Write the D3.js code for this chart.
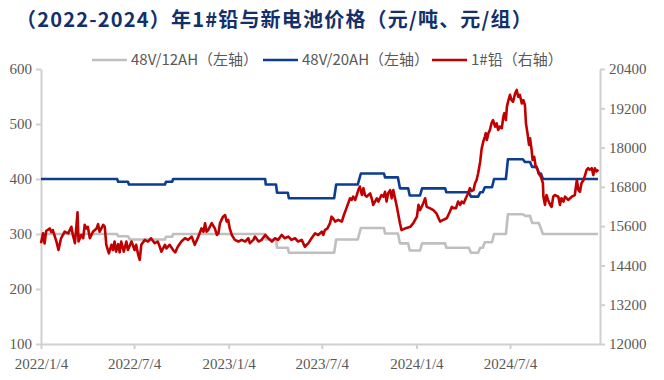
<!DOCTYPE html>
<html><head><meta charset="utf-8">
<script src="https://cdn.jsdelivr.net/npm/d3@7"></script>
<style>
html,body{margin:0;padding:0;background:#fff;}
svg{display:block;}
</style></head>
<body><svg id="c" width="664" height="380"></svg>
<script>
// ---------- data ----------
const titleText = "（2022-2024）年1#铅与新电池价格（元/吨、元/组）";
const seriesNames = ["48V/12AH（左轴）", "48V/20AH（左轴）", "1#铅（右轴）"];
const seriesColors = ["#bfbfbf", "#0b3d91", "#c00000"];
const xTickDates = ["2022-01-04","2022-07-04","2023-01-04","2023-07-04","2024-01-04","2024-07-04"];
const xTickLabels = ["2022/1/4","2022/7/4","2023/1/4","2023/7/4","2024/1/4","2024/7/4"];
const xDomain = ["2022-01-04","2024-12-26"];
const leftTicks = [100,200,300,400,500,600];
const rightTicks = [12000,13200,14400,15600,16800,18000,19200,20400];

const battery12Dates = ["2022-01-04","2022-06-01","2022-06-03","2022-06-22","2022-06-26","2022-09-02","2022-09-04","2022-09-16","2022-09-18","2023-03-16","2023-03-17","2023-04-06","2023-04-08","2023-04-29","2023-05-01","2023-07-28","2023-08-01","2023-09-12","2023-09-18","2023-11-02","2023-11-04","2023-11-29","2023-12-03","2023-12-19","2023-12-22","2024-01-11","2024-01-15","2024-02-29","2024-03-02","2024-04-15","2024-04-19","2024-05-03","2024-05-07","2024-05-12","2024-05-16","2024-05-30","2024-06-03","2024-06-26","2024-06-30","2024-07-29","2024-08-02","2024-08-12","2024-08-16","2024-08-29","2024-09-06","2024-12-22"];
const battery12Values = [300,300,296,296,290,290,295,295,300,300,290,290,275,275,266,266,290,290,311,311,301,301,283,283,270,270,283,283,275,275,266,266,275,275,285,285,300,300,336,336,333,333,320,320,300,300];

const battery20Dates = ["2022-01-04","2022-06-01","2022-06-03","2022-06-22","2022-06-24","2022-09-02","2022-09-04","2022-09-16","2022-09-18","2023-03-16","2023-03-17","2023-04-06","2023-04-08","2023-04-29","2023-05-01","2023-07-28","2023-08-01","2023-09-12","2023-09-18","2023-11-02","2023-11-04","2023-11-29","2023-12-03","2023-12-19","2023-12-22","2024-01-11","2024-01-15","2024-02-29","2024-03-02","2024-04-15","2024-04-19","2024-05-03","2024-05-07","2024-05-12","2024-05-16","2024-05-30","2024-06-03","2024-06-26","2024-06-30","2024-07-29","2024-08-02","2024-08-12","2024-08-16","2024-08-25","2024-08-29","2024-09-02","2024-09-06","2024-12-22"];
const battery20Values = [400,400,395,395,390,390,395,395,400,400,390,390,375,375,365,365,390,390,410,410,403,403,383,383,370,370,383,383,376,376,368,368,376,376,385,385,400,400,436,436,431,431,422,422,410,410,400,400];

const leadDates = ["2022-01-04","2022-01-08","2022-01-11","2022-01-14","2022-01-21","2022-01-24","2022-01-27","2022-02-03","2022-02-07","2022-02-12","2022-02-19","2022-02-26","2022-03-01","2022-03-04","2022-03-07","2022-03-11","2022-03-14","2022-03-16","2022-03-18","2022-03-23","2022-03-27","2022-03-30","2022-04-02","2022-04-05","2022-04-09","2022-04-15","2022-04-22","2022-04-25","2022-04-28","2022-05-05","2022-05-08","2022-05-11","2022-05-16","2022-05-21","2022-05-24","2022-05-27","2022-05-30","2022-06-03","2022-06-06","2022-06-09","2022-06-14","2022-06-19","2022-06-22","2022-06-29","2022-07-05","2022-07-08","2022-07-12","2022-07-15","2022-07-18","2022-07-25","2022-07-31","2022-08-06","2022-08-13","2022-08-19","2022-08-23","2022-08-26","2022-09-02","2022-09-05","2022-09-11","2022-09-18","2022-09-22","2022-09-27","2022-10-04","2022-10-11","2022-10-17","2022-10-24","2022-10-30","2022-11-06","2022-11-12","2022-11-16","2022-11-19","2022-11-22","2022-11-25","2022-12-02","2022-12-08","2022-12-12","2022-12-15","2022-12-18","2022-12-21","2022-12-24","2022-12-28","2022-12-31","2023-01-03","2023-01-06","2023-01-10","2023-01-16","2023-01-23","2023-01-29","2023-02-05","2023-02-11","2023-02-14","2023-02-21","2023-02-24","2023-03-03","2023-03-09","2023-03-16","2023-03-22","2023-03-29","2023-04-04","2023-04-10","2023-04-17","2023-04-23","2023-04-30","2023-05-06","2023-05-13","2023-05-19","2023-05-26","2023-06-01","2023-06-08","2023-06-14","2023-06-21","2023-06-27","2023-07-04","2023-07-07","2023-07-10","2023-07-15","2023-07-20","2023-07-23","2023-07-28","2023-07-30","2023-08-05","2023-08-12","2023-08-16","2023-08-21","2023-08-28","2023-08-31","2023-09-03","2023-09-07","2023-09-10","2023-09-13","2023-09-16","2023-09-20","2023-09-23","2023-09-26","2023-09-29","2023-10-06","2023-10-09","2023-10-12","2023-10-19","2023-10-22","2023-10-28","2023-11-01","2023-11-04","2023-11-07","2023-11-10","2023-11-14","2023-11-17","2023-11-20","2023-11-27","2023-12-03","2023-12-06","2023-12-13","2023-12-23","2023-12-29","2024-01-05","2024-01-08","2024-01-11","2024-01-16","2024-01-21","2024-01-24","2024-01-30","2024-02-06","2024-02-12","2024-02-19","2024-02-25","2024-03-03","2024-03-09","2024-03-13","2024-03-16","2024-03-21","2024-03-25","2024-03-29","2024-04-01","2024-04-05","2024-04-09","2024-04-12","2024-04-17","2024-04-20","2024-04-24","2024-04-27","2024-04-30","2024-05-03","2024-05-07","2024-05-10","2024-05-13","2024-05-16","2024-05-18","2024-05-20","2024-05-23","2024-05-26","2024-05-29","2024-06-01","2024-06-05","2024-06-08","2024-06-11","2024-06-14","2024-06-18","2024-06-21","2024-06-23","2024-06-26","2024-06-28","2024-07-01","2024-07-04","2024-07-07","2024-07-10","2024-07-14","2024-07-17","2024-07-20","2024-07-23","2024-07-27","2024-07-30","2024-08-02","2024-08-04","2024-08-07","2024-08-10","2024-08-12","2024-08-15","2024-08-17","2024-08-20","2024-08-23","2024-08-27","2024-08-29","2024-09-02","2024-09-06","2024-09-07","2024-09-10","2024-09-13","2024-09-16","2024-09-20","2024-09-23","2024-09-26","2024-09-29","2024-10-06","2024-10-09","2024-10-12","2024-10-16","2024-10-19","2024-10-25","2024-11-01","2024-11-07","2024-11-11","2024-11-14","2024-11-17","2024-11-20","2024-11-24","2024-11-27","2024-11-30","2024-12-03","2024-12-06","2024-12-10","2024-12-13","2024-12-16","2024-12-19","2024-12-23"];
const leadValues = [15080,15380,15070,15450,15530,15420,15480,15130,14870,15230,15430,15380,15480,15580,15330,15080,15640,16020,15130,15330,15230,15640,15530,15580,15230,15430,15530,15660,15430,15640,15580,15030,14770,15030,14870,15130,14820,15050,14800,15130,14820,15130,14870,15130,14870,15030,14720,14570,15030,15180,15130,15230,15080,15130,14970,14820,15030,14920,15030,14870,14800,14970,15130,15230,15180,15280,15030,15280,15530,15430,15690,15430,15480,15690,15530,15330,15380,15690,15790,15890,15940,15740,15790,15530,15330,15180,15130,15180,15130,15230,15080,15180,15280,15130,15180,15330,15230,15130,15230,15180,15330,15230,15280,15180,15230,15130,15180,14970,15080,15230,15380,15330,15430,15330,15480,15530,15690,15890,15790,15740,15790,15740,15940,16150,16450,16400,16500,16400,16550,16700,16810,16550,16760,16550,16500,16600,16450,16250,16450,16350,16550,16500,16650,16350,16600,16700,16450,16700,16190,15690,15480,15530,15580,15690,15890,16250,16090,16250,16450,16190,16150,16090,15990,15740,15790,15840,16040,16190,16150,16150,16350,16250,16350,16300,16450,16550,16760,16670,16700,16910,17010,17210,17570,17980,18180,18330,18440,18230,18440,18540,18740,18840,18640,18740,18540,18640,18590,18940,19050,18840,19250,19450,19610,19450,19400,19660,19760,19550,19610,19350,19450,19300,18740,18440,18080,18280,17930,17620,17720,17420,17320,17210,17110,16910,16500,16250,16550,16400,16250,16190,16500,16550,16500,16250,16450,16350,16500,16400,16500,16550,17010,16700,16650,16910,17010,17160,17320,17370,17320,17370,17160,17370,17270,17320];

// ---------- drawing ----------
const parse = d3.timeParse("%Y-%m-%d");
const svg = d3.select("#c");
const M = {left:41, right:600, top:69, bottom:344};

const x = d3.scaleTime().domain(xDomain.map(parse)).range([M.left, M.right]);
const yL = d3.scaleLinear().domain([100,600]).range([M.bottom, M.top]);
const yR = d3.scaleLinear().domain([12000,20400]).range([M.bottom, M.top]);

const axisColor = "#d0d0d0";
const labelColor = "#595959";
const tickFont = "'Liberation Serif','Times New Roman',serif";

// title
svg.append("text").attr("x", 16).attr("y", 27)
  .attr("font-family", "'Noto Sans CJK SC','Noto Sans',sans-serif")
  .attr("font-weight", 700).attr("font-size", 20).attr("letter-spacing", 1.2).attr("fill", "#13306b")
  .text(titleText);

// axes
function styleAxis(g){
  g.attr("font-family", tickFont);
  g.selectAll("path.domain").attr("stroke", axisColor).attr("stroke-width", 2);
  g.selectAll(".tick line").attr("stroke", axisColor).attr("stroke-width", 2);
  g.selectAll(".tick text").attr("fill", labelColor).attr("font-family", tickFont).attr("font-size", 15);
}
const gx = svg.append("g").attr("transform", `translate(0,${M.bottom})`)
  .call(d3.axisBottom(x).tickValues(xTickDates.map(parse))
    .tickFormat((d,i)=>xTickLabels[i]).tickSizeInner(5).tickSizeOuter(0).tickPadding(6));
styleAxis(gx);
gx.selectAll(".tick text").attr("dy", "0.9em");

const gl = svg.append("g").attr("transform", `translate(${M.left},0)`)
  .call(d3.axisLeft(yL).tickValues(leftTicks).tickFormat(d3.format("d")).tickSizeInner(5).tickSizeOuter(0).tickPadding(4));
styleAxis(gl);

const gr = svg.append("g").attr("transform", `translate(${M.right},0)`)
  .call(d3.axisRight(yR).tickValues(rightTicks).tickFormat(d3.format("d")).tickSizeInner(5).tickSizeOuter(0).tickPadding(4));
styleAxis(gr);

// lines
function series(dates, values){ return dates.map((d,i)=>({d:parse(d), v:values[i]})); }
const lineL = d3.line().x(p=>x(p.d)).y(p=>yL(p.v));
const lineR = d3.line().x(p=>x(p.d)).y(p=>yR(p.v));

svg.append("path").datum(series(battery12Dates, battery12Values))
  .attr("d", lineL).attr("fill","none").attr("stroke", seriesColors[0]).attr("stroke-width", 2.6).attr("stroke-linejoin","round");
svg.append("path").datum(series(battery20Dates, battery20Values))
  .attr("d", lineL).attr("fill","none").attr("stroke", seriesColors[1]).attr("stroke-width", 2.6).attr("stroke-linejoin","round");
svg.append("path").datum(series(leadDates, leadValues))
  .attr("d", lineR).attr("fill","none").attr("stroke", seriesColors[2]).attr("stroke-width", 2.6).attr("stroke-linejoin","round");

// legend
const legendX = [92, 263, 432];
const lg = svg.append("g");
seriesNames.forEach((n,i)=>{
  lg.append("line").attr("x1", legendX[i]).attr("x2", legendX[i]+35).attr("y1", 60).attr("y2", 60)
    .attr("stroke", seriesColors[i]).attr("stroke-width", 2.6);
  lg.append("text").attr("x", legendX[i]+39).attr("y", 60).attr("dy","0.36em")
    .attr("font-family", "'Noto Sans CJK SC','Noto Sans',sans-serif").attr("font-size", 15)
    .attr("fill", labelColor).text(n);
});
</script></body></html>
